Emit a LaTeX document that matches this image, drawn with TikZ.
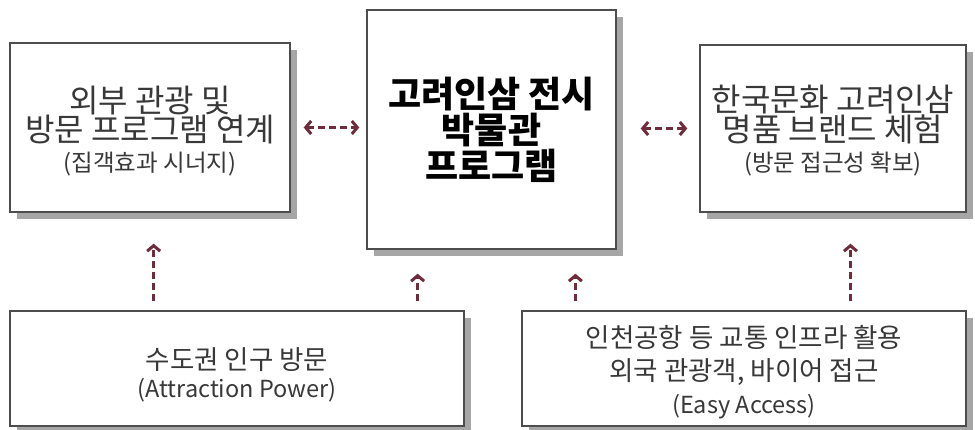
\documentclass[tikz,border=0pt]{standalone}
\usepackage{fontspec}
\setmainfont{Noto Sans CJK KR}
\usetikzlibrary{positioning, arrows.meta, shadows, calc}

\definecolor{linkred}{HTML}{6E2C3C}
\definecolor{boxgray}{HTML}{4D4D4D}

\newcommand{\subline}{\fontsize{23.5}{26}\selectfont}
% invisible strut on a first line, pushes the text block down a little
\newcommand{\lift}[1]{\rule{0pt}{#1}}

\tikzset{
  box/.style={draw=boxgray, line width=1.4pt, fill=white, text=black!78,
    align=center, inner sep=0pt,
    drop shadow={shadow xshift=7pt, shadow yshift=-7pt, fill=black!35, opacity=1}},
  sidebox/.style={box, font=\fontsize{32}{29}\selectfont},
  lowbox/.style={box, minimum height=115pt, font=\fontsize{26.5}{33}\selectfont},
  link/.style={draw=linkred, line width=3pt, dash pattern=on 7pt off 4pt,
    -{Straight Barb[length=5.5pt, width=13pt]}},
  twolink/.style={link, {Straight Barb[length=5.5pt, width=13pt]}-{Straight Barb[length=5.5pt, width=13pt]}}
}

\begin{document}
\begin{tikzpicture}[x=1pt, y=-1pt]
    \useasboundingbox (0,0) rectangle (975,430);

    % upper row
    \node[box, minimum width=249pt, minimum height=239pt, text=black,
          font=\fontsize{36}{36}\selectfont\bfseries] (museum) at (491.5,129.5)
        {고려인삼 전시\\박물관\\프로그램};
    \node[sidebox, minimum width=280pt, minimum height=169pt] (ext) at (150,127.5)
        {\lift{34pt}외부 관광 및\\방문 프로그램 연계\\[1pt]{\subline (집객효과 시너지)}};
    \node[sidebox, minimum width=266pt, minimum height=167pt] (brand) at (833,128.5)
        {\lift{30pt}한국문화 고려인삼\\명품 브랜드 체험\\[1pt]{\subline (방문 접근성 확보)}};

    % lower row
    \node[lowbox, minimum width=454pt] (capital) at (237,368.5)
        {\lift{34pt}수도권 인구 방문\\[-5pt]{\subline (Attraction Power)}};
    \node[lowbox, minimum width=444pt] (access) at (744,368.5)
        {\lift{30pt}인천공항 등 교통 인프라 활용\\외국 관광객, 바이어 접근\\[0pt]{\subline (Easy Access)}};

    % feet of the upward arrows
    \coordinate (capfoot) at ($(capital.north west)!0.317!(capital.north east)$);
    \coordinate (musleft) at ($(museum.south west)!0.205!(museum.south east)$);
    \coordinate (musright) at ($(museum.south west)!0.835!(museum.south east)$);
    \coordinate (accfoot) at ($(access.north west)!0.739!(access.north east)$);

    \draw[twolink, shorten <=13pt, shorten >=7pt] (ext.east) -- (museum.west |- ext.east);
    \draw[twolink, shorten <=24pt, shorten >=12pt] (museum.east |- brand.west) -- (brand.west);

    \draw[link, shorten <=9pt, shorten >=31pt] (capfoot) -- (capfoot |- ext.south);
    \draw[link, shorten <=9pt, shorten >=24pt] (capital.north -| musleft) -- (musleft);
    \draw[link, shorten <=9pt, shorten >=24pt] (access.north -| musright) -- (musright);
    \draw[link, shorten <=9pt, shorten >=31pt] (accfoot) -- (accfoot |- brand.south);
\end{tikzpicture}
\end{document}
